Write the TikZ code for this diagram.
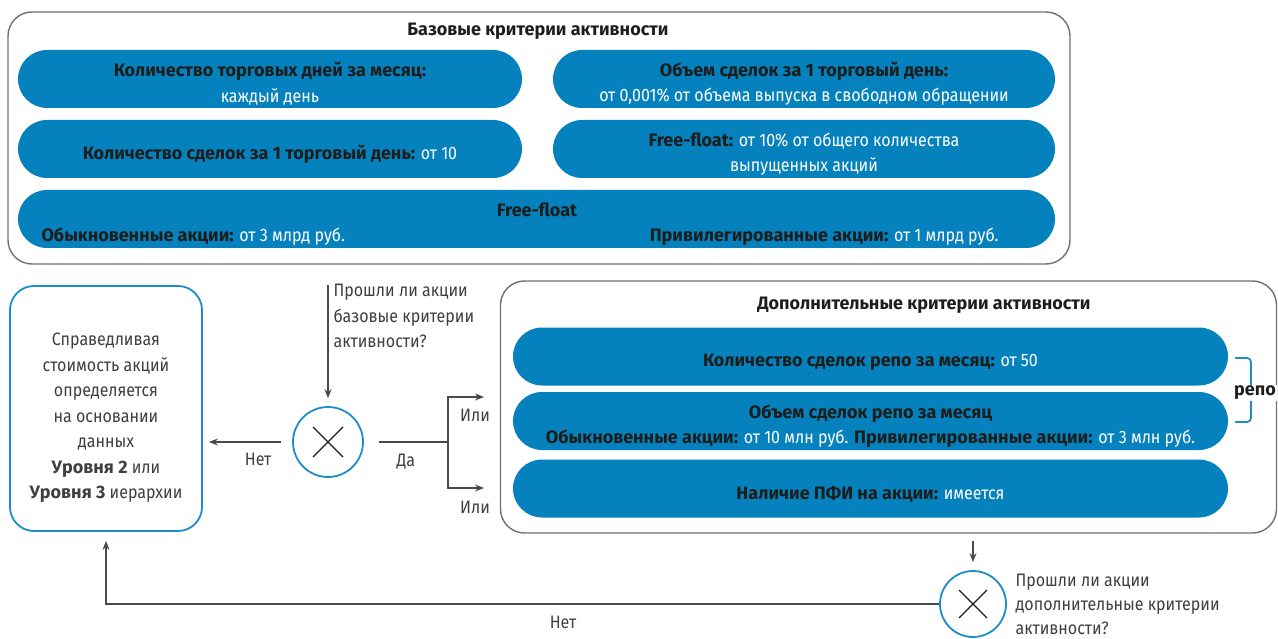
\documentclass[tikz,border=0pt]{standalone}
\usepackage{fontspec}
\setmainfont{Fira Sans}[FakeStretch=0.89, BoldFeatures={FakeStretch=1.0}]
\usetikzlibrary{arrows.meta,positioning}
\definecolor{pillblue}{HTML}{0582BD}
\definecolor{lineblue}{HTML}{1E8CC6}
\definecolor{ink}{HTML}{1D1D1B}
\definecolor{frame}{HTML}{707070}
\newcommand{\hd}[1]{{\bfseries\color{ink}#1}}
\newcommand{\st}{\rule{0pt}{24pt}}

\begin{document}
\begin{tikzpicture}[x=1pt, y=-1pt,
    every node/.style={font=\fontsize{18}{25.5}\selectfont, text=ink!85},
    box/.style={draw=frame, line width=1.4pt, rounded corners=24pt},
    pill/.style={fill=pillblue, rounded corners=29pt, minimum height=58pt,
                 text=white, align=center, inner sep=0pt},
    ask/.style={circle, draw=lineblue, line width=1.8pt, minimum size=70pt, inner sep=0pt},
    xm/.style={line width=1.3pt, draw=ink},
    e/.style={-{Stealth[length=9pt, width=7pt]}, line width=1.1pt, draw=ink!80},
    ln/.style={line width=1.1pt, draw=ink!80},
    brk/.style={draw=lineblue, line width=1.8pt, rounded corners=4pt},
  ]
  \useasboundingbox (0,0) rectangle (1278,639);
  % base criteria
  \node[box, minimum width=1062pt, minimum height=252pt] (base) at (539,138) {};
  \node (baset) at (538,31) {\hd{Базовые критерии активности}};
  \node[pill, minimum width=504pt] (p1) at (270,79) {\st\hd{Количество торговых дней за месяц:}\\каждый день};
  \node[pill, minimum width=502pt] (p2) at (804,79) {\st\hd{Объем сделок за 1 торговый день:}\\от 0,001\% от объема выпуска в свободном обращении};
  \node[pill, minimum width=504pt] (p3) at (270,149) {\st\hd{Количество сделок за 1 торговый день:} от 10};
  \node[pill, minimum width=502pt] (p4) at (804,149) {\st\hd{Free-float:} от 10\% от общего количества\\выпущенных акций};
  \node[pill, minimum width=1037pt] (p5) at (536.5,219) {};
  \node (ff) at (537,210) {\hd{Free-float}};
  \node[anchor=west, text=white] (ord) at (38,237) {\hd{Обыкновенные акции:} от 3 млрд руб.};
  \node[anchor=east, text=white] (pref) at (1002,237) {\hd{Привилегированные акции:} от 1 млрд руб.};
  % fair value
  \node[draw=lineblue, line width=1.8pt, rounded corners=24pt, minimum width=192pt,
        minimum height=245pt] (fair) at (106,408.5) {};
  \node[align=center] (fairtxt) at (106,418)
        {Справедливая\\стоимость акций\\определяется\\на основании\\данных\\\textbf{Уровня 2} или\\\textbf{Уровня 3} иерархии};
  % first check
  \node[ask] (q1) at (328,442) {};
  \draw[xm] (q1.center) +(-15,-15) -- +(15,15) (q1.center) +(-15,15) -- +(15,-15);
  \coordinate (q1in) at (328,285);
  \node[anchor=north west, align=left] (q1txt) at (330,281) {Прошли ли акции\\базовые критерии\\активности?};
  \draw[e, shorten >=8pt] (q1in) -- (q1);
  \draw[e, shorten <=11pt, shorten >=6pt] (q1.west) -- node[pos=0.38, below=7pt] {Нет} (q1.west -| fair.east);
  \coordinate (split) at (448,442);
  \draw[ln, shorten <=15pt] (q1) -- node[below=8pt] {Да} (split);
  \coordinate (or1) at (484,397);
  \coordinate (or2) at (484,488);
  \draw[e] (split) |- (or1);
  \draw[e] (split) |- (or2);
  \node (ili1) at (475,415) {Или};
  \node (ili2) at (475,507) {Или};
  % additional criteria
  \node[box, minimum width=776pt, minimum height=252pt] (extra) at (888.5,407) {};
  \node (extrat) at (924,305) {\hd{Дополнительные критерии активности}};
  \node[pill, minimum width=715pt] (r1) at (870.5,356.5) {\st\hd{Количество сделок репо за месяц:} от 50};
  \node[pill, minimum width=715pt] (r2) at (870.5,421) {\st\hd{Объем сделок репо за месяц}\\\hd{Обыкновенные акции:} от 10 млн руб. \hd{Привилегированные акции:} от 3 млн руб.};
  \node[pill, minimum width=715pt] (r3) at (870.5,488.5) {\st\hd{Наличие ПФИ на акции:} имеется};
  \draw[brk] (1235,358) -| (1251,422) -- (1235,422);
  \node[fill=white, inner sep=1pt] (repo) at (1255,393) {\hd{репо}};
  % second check
  \coordinate (q2in) at (973,541);
  \node[ask, minimum size=66pt] (q2) at (973,604) {};
  \draw[xm] (q2.center) +(-14,-14) -- +(14,14) (q2.center) +(-14,14) -- +(14,-14);
  \draw[e, shorten >=8pt] (q2in) -- (q2);
  \node[anchor=west, align=left, font=\fontsize{18}{24}\selectfont] (q2txt) at (1012,604) {Прошли ли акции\\дополнительные критерии\\активности?};
  \draw[e, shorten >=9pt] (q2) -| (fair);
  \node (no2) at (563,622) {Нет};
\end{tikzpicture}
\end{document}
